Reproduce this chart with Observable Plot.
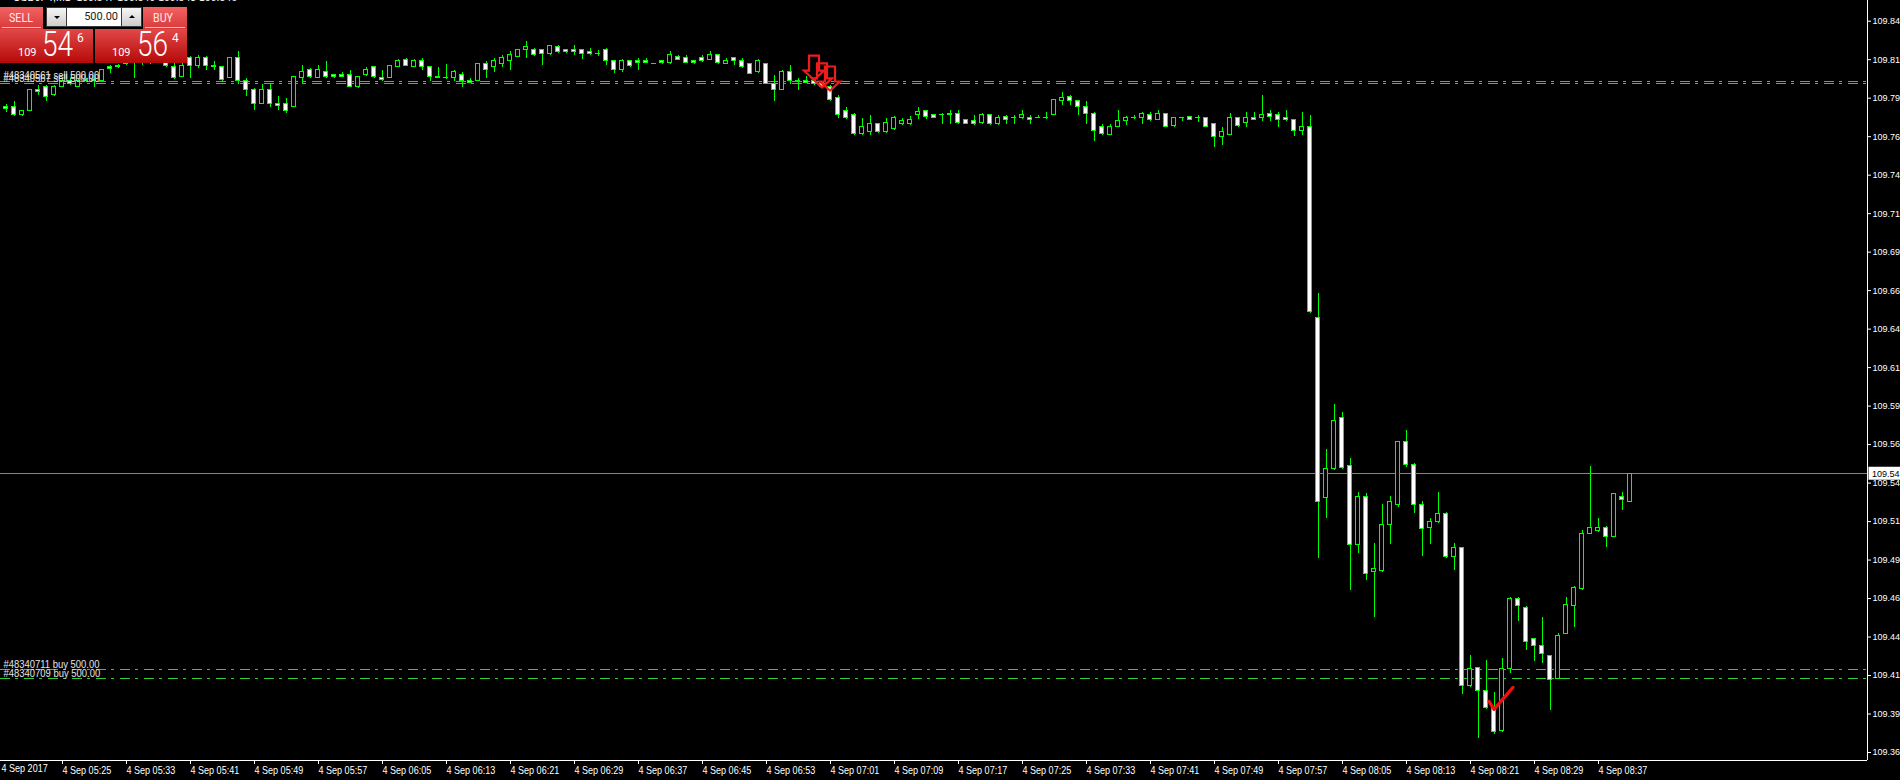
<!DOCTYPE html>
<html><head><meta charset="utf-8">
<script src="https://cdn.jsdelivr.net/npm/d3@7"></script>
<script src="https://cdn.jsdelivr.net/npm/@observablehq/plot@0.6"></script>
<style>
html,body{margin:0;padding:0;background:#000;overflow:hidden;}
#wrap{position:relative;width:1900px;height:780px;overflow:hidden;background:#000;}
#chart svg{display:block;}
#info{position:absolute;left:13px;top:-9px;font:10.5px 'Liberation Sans',sans-serif;color:#fff;white-space:pre;}
#oct{position:absolute;left:0;top:0;width:190px;height:64px;font-family:Roboto,'Noto Sans',sans-serif;}
.btn{position:absolute;top:7px;height:22px;background:linear-gradient(#f26262,#d83a3a);}
.btn::after{content:"";position:absolute;left:2px;right:2px;bottom:1px;height:1px;background:rgba(255,205,205,0.85);}
.btn.sell{left:0;width:43px;}
.btn.buy{left:143px;width:44px;}
.btn .lbl{position:absolute;top:4px;font-size:13px;line-height:13px;color:#ffe8e8;display:inline-block;transform:scaleX(0.82);transform-origin:left;}
.btn.sell .lbl{left:9px;}
.btn.buy .lbl{left:10px;}
.qty{position:absolute;left:46px;top:7px;width:96px;height:20px;background:#3a3a3a;}
.qty .arr{position:absolute;top:1px;width:19px;height:18px;background:linear-gradient(#f6f6f6,#cdcdcd);}
.qty .dn{left:1px;}
.qty .up{left:76px;}
.qty .dn::after{content:"";position:absolute;left:7px;top:8px;border-left:3px solid transparent;border-right:3px solid transparent;border-top:3px solid #000;}
.qty .up::after{content:"";position:absolute;left:7px;top:7px;border-left:3px solid transparent;border-right:3px solid transparent;border-bottom:3px solid #000;}
.qty .fld{position:absolute;left:21px;top:1px;width:54px;height:18px;background:#fff;}
.qty .fld span{position:absolute;right:3px;top:3px;font-size:11px;line-height:11px;color:#222;}
.pbox{position:absolute;top:29px;height:34px;background:linear-gradient(#e24848,#b60909);color:#fff;}
.pbox.sellp{left:0;width:93px;}
.pbox.buyp{left:95px;width:92px;}
.pbox span{position:absolute;display:inline-block;}
.pbox .s{font-size:11px;line-height:11px;top:18px;}
.pbox .b{font-size:35px;line-height:35px;top:-2px;font-weight:300;transform:scaleX(0.8);transform-origin:left;}
.pbox .sup{font-size:12px;line-height:12px;top:3px;}
.sellp .s{left:18px;} .sellp .b{left:42px;} .sellp .sup{left:77px;}
.buyp .s{left:17px;} .buyp .b{left:42px;} .buyp .sup{left:77px;}
</style></head><body>
<div id="wrap">
<div id="chart"></div>
<div id="info">USDJPY,M1  109.547 109.549 109.543 109.546</div>
<div id="oct">
  <div class="btn sell"><span class="lbl">SELL</span></div>
  <div class="qty"><div class="arr dn"></div><div class="fld"><span>500.00</span></div><div class="arr up"></div></div>
  <div class="btn buy"><span class="lbl">BUY</span></div>
  <div class="pbox sellp"><span class="s">109</span><span class="b">54</span><span class="sup">6</span></div>
  <div class="pbox buyp"><span class="s">109</span><span class="b">56</span><span class="sup">4</span></div>
</div>
</div>
<script>
// ---- data: USDJPY M1, 4 Sep 2017 ----
const times = [
"05:18","05:19","05:20","05:21","05:22","05:23","05:24","05:25","05:26","05:27","05:28","05:29","05:30","05:31","05:32","05:33","05:34","05:35","05:36","05:37","05:38","05:39","05:40","05:41","05:42","05:43","05:44","05:45","05:46","05:47","05:48","05:49","05:50","05:51","05:52","05:53","05:54","05:55","05:56","05:57","05:58","05:59",
"06:00","06:01","06:02","06:03","06:04","06:05","06:06","06:07","06:08","06:09","06:10","06:11","06:12","06:13","06:14","06:15","06:16","06:17","06:18","06:19","06:20","06:21","06:22","06:23","06:24","06:25","06:26","06:27","06:28","06:29","06:30","06:31","06:32","06:33","06:34","06:35","06:36","06:37","06:38","06:39","06:40","06:41","06:42","06:43","06:44","06:45","06:46","06:47","06:48","06:49","06:50","06:51","06:52","06:53","06:54","06:55","06:56","06:57","06:58","06:59",
"07:00","07:01","07:02","07:03","07:04","07:05","07:06","07:07","07:08","07:09","07:10","07:11","07:12","07:13","07:14","07:15","07:16","07:17","07:18","07:19","07:20","07:21","07:22","07:23","07:24","07:25","07:26","07:27","07:28","07:29","07:30","07:31","07:32","07:33","07:34","07:35","07:36","07:37","07:38","07:39","07:40","07:41","07:42","07:43","07:44","07:45","07:46","07:47","07:48","07:49","07:50","07:51","07:52","07:53","07:54","07:55","07:56","07:57","07:58","07:59",
"08:00","08:01","08:02","08:03","08:04","08:05","08:06","08:07","08:08","08:09","08:10","08:11","08:12","08:13","08:14","08:15","08:16","08:17","08:18","08:19","08:20","08:21","08:22","08:23","08:24","08:25","08:26","08:27","08:28","08:29","08:30","08:31","08:32","08:33","08:34","08:35","08:36","08:37","08:38","08:39","08:40","08:41"];

const open = [
109.784,109.784,109.779,109.782,109.795,109.797,109.792,109.797,109.801,109.797,
109.802,109.802,109.801,109.810,109.810,109.812,109.817,109.814,109.813,109.818,
109.816,109.810,109.804,109.816,109.811,109.816,109.811,109.810,109.803,109.816,
109.801,109.795,109.786,109.795,109.786,109.786,109.784,109.803,109.808,109.803,
109.807,109.805,109.805,109.805,109.797,109.805,109.810,109.803,109.803,109.810,
109.815,109.810,109.814,109.810,109.803,109.803,109.803,109.805,109.801,109.801,
109.812,109.810,109.812,109.814,109.817,109.821,109.821,109.821,109.819,109.823,
109.821,109.821,109.821,109.820,109.819,109.821,109.814,109.808,109.814,109.814,
109.814,109.812,109.814,109.813,109.817,109.816,109.814,109.816,109.815,109.818,
109.812,109.816,109.814,109.812,109.807,109.812,109.799,109.795,109.807,109.801,
109.801,109.801,109.800,109.797,109.790,109.782,109.779,109.767,109.768,109.773,
109.768,109.770,109.773,109.773,109.779,109.782,109.779,109.779,109.780,109.780,
109.776,109.775,109.774,109.779,109.773,109.778,109.777,109.777,109.777,109.777,
109.777,109.779,109.788,109.791,109.788,109.784,109.780,109.771,109.766,109.771,
109.775,109.777,109.777,109.779,109.776,109.780,109.772,109.777,109.778,109.777,
109.777,109.773,109.765,109.766,109.777,109.774,109.777,109.777,109.780,109.779,
109.777,109.776,109.769,109.771,109.647,109.530,109.549,109.582,109.551,109.500,
109.531,109.482,109.483,109.513,109.526,109.567,109.552,109.526,109.511,109.515,
109.520,109.492,109.498,109.408,109.420,109.405,109.394,109.379,109.419,109.465,
109.459,109.439,109.434,109.428,109.413,109.442,109.460,109.471,109.507,109.509,
109.511,109.505,109.531,109.528];

const high = [
109.786,109.788,109.782,109.795,109.798,109.798,109.798,109.803,109.803,109.802,
109.803,109.803,109.808,109.811,109.812,109.820,109.821,109.818,109.821,109.822,
109.820,109.814,109.813,109.817,109.818,109.817,109.814,109.810,109.816,109.820,
109.803,109.796,109.799,109.799,109.791,109.790,109.804,109.811,109.809,109.811,
109.814,109.805,109.807,109.808,109.804,109.810,109.810,109.808,109.811,109.815,
109.816,109.815,109.816,109.810,109.810,109.812,109.808,109.807,109.803,109.812,
109.814,109.816,109.818,109.820,109.821,109.827,109.822,109.821,109.824,109.824,
109.821,109.824,109.821,109.822,109.821,109.822,109.814,109.815,109.814,109.816,
109.816,109.812,109.814,109.820,109.818,109.818,109.814,109.818,109.820,109.818,
109.816,109.816,109.816,109.812,109.815,109.812,109.805,109.808,109.811,109.803,
109.804,109.802,109.801,109.798,109.792,109.784,109.780,109.777,109.779,109.773,
109.777,109.778,109.777,109.778,109.784,109.782,109.779,109.780,109.782,109.782,
109.776,109.779,109.780,109.779,109.779,109.779,109.779,109.782,109.779,109.779,
109.781,109.789,109.794,109.792,109.788,109.788,109.781,109.773,109.773,109.782,
109.778,109.779,109.781,109.781,109.782,109.780,109.777,109.777,109.778,109.779,
109.777,109.773,109.771,109.780,109.777,109.781,109.781,109.792,109.782,109.781,
109.782,109.776,109.781,109.779,109.663,109.562,109.591,109.586,109.556,109.534,
109.533,109.501,109.526,109.531,109.567,109.574,109.553,109.528,109.517,109.534,
109.521,109.501,109.498,109.428,109.420,109.425,109.404,109.426,109.466,109.466,
109.460,109.439,109.453,109.428,109.442,109.466,109.473,109.509,109.551,109.517,
109.512,109.533,109.534,109.546];

const low = [
109.781,109.778,109.778,109.782,109.792,109.788,109.791,109.797,109.798,109.797,
109.800,109.797,109.801,109.806,109.809,109.811,109.803,109.811,109.812,109.814,
109.810,109.802,109.804,109.803,109.809,109.808,109.808,109.801,109.803,109.799,
109.791,109.782,109.786,109.784,109.782,109.780,109.784,109.799,109.803,109.803,
109.803,109.803,109.804,109.797,109.796,109.804,109.803,109.801,109.803,109.810,
109.811,109.810,109.808,109.801,109.803,109.802,109.801,109.797,109.800,109.801,
109.803,109.807,109.810,109.808,109.817,109.816,109.817,109.811,109.818,109.819,
109.819,109.818,109.815,109.818,109.817,109.811,109.806,109.807,109.810,109.808,
109.813,109.812,109.812,109.812,109.815,109.813,109.812,109.813,109.815,109.812,
109.812,109.811,109.809,109.806,109.806,109.799,109.788,109.795,109.799,109.795,
109.800,109.798,109.796,109.788,109.777,109.776,109.766,109.766,109.766,109.767,
109.767,109.769,109.772,109.772,109.776,109.776,109.777,109.773,109.773,109.773,
109.773,109.772,109.773,109.772,109.772,109.773,109.773,109.776,109.773,109.777,
109.776,109.779,109.785,109.785,109.779,109.773,109.762,109.766,109.766,109.771,
109.772,109.776,109.773,109.775,109.776,109.771,109.771,109.775,109.776,109.774,
109.771,109.758,109.759,109.766,109.771,109.771,109.776,109.775,109.775,109.771,
109.775,109.765,109.766,109.650,109.491,109.517,109.548,109.549,109.470,109.494,
109.477,109.453,109.482,109.500,109.524,109.550,109.520,109.492,109.500,109.514,
109.491,109.483,109.403,109.407,109.374,109.393,109.377,109.378,109.416,109.450,
109.431,109.424,109.423,109.392,109.413,109.442,109.446,109.470,109.507,109.508,
109.498,109.505,109.522,109.528];

const close = [
109.783,109.779,109.782,109.795,109.794,109.791,109.797,109.801,109.799,109.801,
109.801,109.801,109.808,109.809,109.811,109.817,109.813,109.813,109.818,109.816,
109.811,109.803,109.811,109.811,109.816,109.811,109.810,109.802,109.816,109.801,
109.795,109.786,109.795,109.786,109.785,109.782,109.804,109.807,109.804,109.808,
109.804,109.804,109.804,109.797,109.804,109.808,109.804,109.802,109.811,109.814,
109.811,109.814,109.810,109.804,109.804,109.803,109.807,109.801,109.800,109.812,
109.808,109.814,109.816,109.818,109.821,109.823,109.818,109.819,109.824,109.820,
109.820,109.820,109.819,109.819,109.819,109.814,109.808,109.814,109.811,109.813,
109.813,109.812,109.813,109.818,109.815,109.813,109.813,109.814,109.818,109.813,
109.814,109.814,109.810,109.806,109.814,109.799,109.795,109.807,109.801,109.801,
109.800,109.799,109.797,109.789,109.779,109.777,109.767,109.771,109.773,109.768,
109.774,109.777,109.775,109.776,109.781,109.778,109.777,109.779,109.779,109.774,
109.773,109.773,109.779,109.773,109.777,109.776,109.777,109.779,109.776,109.777,
109.777,109.789,109.790,109.788,109.784,109.780,109.769,109.767,109.771,109.775,
109.777,109.777,109.780,109.776,109.780,109.771,109.777,109.777,109.776,109.777,
109.771,109.765,109.768,109.777,109.772,109.777,109.776,109.779,109.778,109.776,
109.776,109.769,109.771,109.651,109.528,109.549,109.580,109.550,109.500,109.531,
109.481,109.484,109.513,109.528,109.567,109.552,109.526,109.510,109.515,109.520,
109.492,109.498,109.408,109.419,109.405,109.394,109.378,109.419,109.465,109.460,
109.437,109.434,109.429,109.412,109.441,109.461,109.472,109.507,109.511,109.511,
109.505,109.533,109.529,109.546];

const bid = 109.546;
const orderPrices = [109.8008, 109.7993, 109.4187, 109.4128];
const orderLabels = ["#48340561 sell 500.00", "#48340567 sell 500.00", "#48340711 buy 500.00", "#48340709 buy 500.00"];
const sellArrowTimes = ["06:59", "07:00", "07:01"];
const sellArrowPrices = [109.802, 109.797, 109.795];
const closeMarkTimes = ["08:24"];
const closeMarkPrices = [109.393];
const yTicks = [109.365,109.390,109.415,109.440,109.465,109.490,109.515,109.540,109.565,109.590,
                109.615,109.640,109.665,109.690,109.715,109.740,109.765,109.790,109.815,109.840];
const xTickTimes = ["05:25","05:33","05:41","05:49","05:57","06:05","06:13","06:21","06:29","06:37","06:45","06:53",
                    "07:01","07:09","07:17","07:25","07:33","07:41","07:49","07:57","08:05","08:13","08:21","08:29","08:37"];
const xTickLabels = xTickTimes.map(t => "4 Sep " + t);
const dateLabel = "4 Sep 2017";

// ---- chart ----
const toDate = s => new Date(Date.UTC(2017, 8, 4, +s.slice(0, 2), +s.slice(3, 5)));
const MIN = 60000;
const t0 = +toDate(times[0]);
const xDomain = [new Date(t0 - 0.6875 * MIN), new Date(t0 + 232.6875 * MIN)];
const yDomain = [109.35981, 109.85345];
const half = 0.5 * MIN;
// the terminal shows price labels cut to two decimals by the window edge
const cut2 = d => (Math.floor(d * 100 + 1e-6) / 100).toFixed(2);

const bars = times.map((t, i) => ({t: toDate(t), o: open[i], h: high[i], l: low[i], c: close[i]}));
const xTickDates = xTickTimes.map(toDate);
const labelMap = new Map(xTickDates.map((d, i) => [+d, xTickLabels[i]]));
const orders = orderPrices.map((p, i) => ({p, label: orderLabels[i]}));
const arrows = sellArrowTimes.map((t, i) => ({t: toDate(t), p: sellArrowPrices[i]}));
const checks = closeMarkTimes.map((t, i) => ({t: toDate(t), p: closeMarkPrices[i]}));

const LIME = "#00ff00";
const FONT = "'Liberation Sans',sans-serif";

const sellArrow = {draw(ctx) {
  ctx.moveTo(-5, -24); ctx.lineTo(5, -24); ctx.lineTo(5, -9); ctx.lineTo(10, -9);
  ctx.lineTo(0, 0); ctx.lineTo(-10, -9); ctx.lineTo(-5, -9); ctx.closePath();
}};
const checkMark = {draw(ctx) { ctx.moveTo(-5, -8); ctx.lineTo(0, 0); ctx.lineTo(19, -22); }};
const priceBox = {draw(ctx) { ctx.rect(1, -7, 32, 13); }};

const chart = Plot.plot({
  width: 1900, height: 780,
  marginTop: 0, marginLeft: 0, marginRight: 33, marginBottom: 20,
  style: {background: "#000", color: "#fff", fontFamily: FONT, fontSize: "10.5px"},
  x: {type: "utc", domain: xDomain},
  y: {domain: yDomain},
  marks: [
    Plot.ruleY(orders, {y: "p", stroke: "#2fcf2f", strokeDasharray: "10,5,3,6", shapeRendering: "crispEdges"}),
    Plot.ruleY([bid], {stroke: "#778899", shapeRendering: "crispEdges"}),
    Plot.ruleX(bars, {x: "t", y1: "l", y2: "h", stroke: LIME, shapeRendering: "crispEdges"}),
    Plot.rect(bars, {x1: d => new Date(+d.t - half), x2: d => new Date(+d.t + half),
      y1: d => Math.max(d.o, d.c), y2: d => Math.min(d.o, d.c), fill: LIME,
      insetLeft: 1.5, insetRight: 1.5, insetTop: -0.5, insetBottom: -0.5, shapeRendering: "crispEdges"}),
    Plot.rect(bars, {x1: d => new Date(+d.t - half), x2: d => new Date(+d.t + half),
      y1: d => Math.max(d.o, d.c), y2: d => Math.min(d.o, d.c), fill: d => d.c < d.o ? "#ffffff" : "#000000",
      insetLeft: 2.5, insetRight: 2.5, insetTop: 0.5, insetBottom: 0.5, shapeRendering: "crispEdges"}),
    Plot.text(orders, {y: "p", frameAnchor: "left", text: "label", textAnchor: "start", dx: 3, dy: -5.5, fill: "#e4e4e4", className: "sq90"}),
    Plot.dot(arrows, {x: "t", y: "p", symbol: sellArrow, stroke: "#ee1c1c", strokeWidth: 2.2, fill: "none"}),
    Plot.dot(checks, {x: "t", y: "p", symbol: checkMark, stroke: "#ee1111", strokeWidth: 3.2, fill: "none", strokeLinecap: "round", strokeLinejoin: "round"}),
    Plot.ruleY([yDomain[0]], {stroke: "#fff", shapeRendering: "crispEdges"}),
    Plot.ruleX([xDomain[1]], {stroke: "#fff", shapeRendering: "crispEdges"}),
    Plot.axisY({anchor: "right", ticks: yTicks, tickFormat: cut2, tickSize: 3, tickPadding: 2, label: null, fontSize: 9}),
    Plot.axisX({anchor: "bottom", ticks: xTickDates, tickFormat: d => labelMap.get(+d), tickSize: 4, tickPadding: 2,
      textAnchor: "start", dx: 0.5, label: null, className: "sq86"}),
    Plot.text([dateLabel], {frameAnchor: "bottom-left", dy: 11.5, dx: 1, text: d => d, textAnchor: "start", className: "sq86"}),
    Plot.dot([bid], {x: () => xDomain[1], y: d => d, symbol: priceBox, fill: "#fff", stroke: "none"}),
    Plot.text([bid], {x: () => xDomain[1], y: d => d, text: cut2, dx: 4.5, textAnchor: "start", fill: "#000", fontSize: 9})
  ]
});
document.getElementById("chart").appendChild(chart);

// narrow the glyphs to the terminal's condensed look
function squeeze(cls, k) {
  chart.querySelectorAll("." + cls + " text").forEach(t => {
    const L = t.getComputedTextLength();
    if (L > 0) { t.setAttribute("textLength", (L * k).toFixed(2)); t.setAttribute("lengthAdjust", "spacingAndGlyphs"); }
  });
}
squeeze("sq86", 0.86);
squeeze("sq90", 0.9);
</script>
</body></html>
